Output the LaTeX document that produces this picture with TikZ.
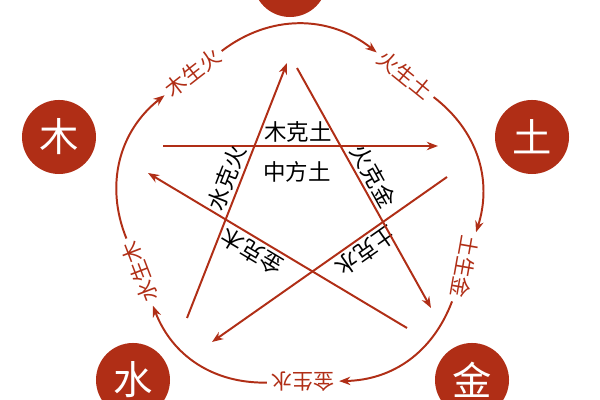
\documentclass[tikz,border=0pt]{standalone}
\usepackage{fontspec}
\setmainfont{Noto Sans CJK SC}
\usetikzlibrary{arrows.meta}
\definecolor{wxred}{RGB}{176,46,22}
\begin{document}
\begin{tikzpicture}[x=0.025cm, y=0.025cm]
        \tikzstyle{element} = [circle, fill=wxred, text=white, minimum size=1.85cm, inner sep=0pt, font=\fontsize{28}{28}\selectfont]
        \tikzstyle{sheng} = [text=wxred, inner sep=3pt, font=\fontsize{15}{15}\selectfont]
        \tikzstyle{link} = [draw=wxred, line width=1.4pt, -{Stealth[length=8pt, width=6pt]}]
        \tikzstyle{ke} = [sloped, allow upside down, above, inner sep=2pt, font=\fontsize{16}{16}\selectfont]
        \useasboundingbox (0,0) rectangle (600,400);
        \clip (0,0) rectangle (600,400);

        \node[element](huo) at (290,420){火};
        \node[element](mu) at (59,263){木};
        \node[element](tu) at (532,263){土};
        \node[element](shui) at (133,20){水};
        \node[element](jin) at (472,20){金};

        \node[sheng, rotate=38](muhuo) at (193,327){木生火};
        \node[sheng, rotate=-39](huotu) at (405,325){火生土};
        \node[sheng, rotate=-100](tujin) at (465,133){土生金};
        \node[sheng, rotate=180](jinshui) at (303,18){金生水};
        \node[sheng, rotate=111](shuimu) at (140,128){水生木};

        \path[link] (muhuo) to[bend left=38] (huotu);
        \path[link] (huotu) to[bend left=35] (tujin);
        \path[link] (tujin) to[bend left=34] (jinshui);
        \path[link] (jinshui) to[bend left=35] (shuimu);
        \path[link] (shuimu) to[bend left=37] (muhuo);

        \coordinate (mu1) at (163,254); \coordinate (mu2) at (438,254);
        \coordinate (tu1) at (447,223); \coordinate (tu2) at (212,58);
        \coordinate (shui1) at (187,82); \coordinate (shui2) at (287,337);
        \coordinate (huo1) at (297,332); \coordinate (huo2) at (431,92);
        \coordinate (jin1) at (407,72); \coordinate (jin2) at (148,227);

        \draw[link] (mu1) -- node[ke, pos=0.49](mutu){木克土} (mu2);
        \draw[link] (tu1) -- node[ke, pos=0.38](tushui){土克水} (tu2);
        \draw[link] (shui1) -- node[ke, pos=0.53](shuihuo){水克火} (shui2);
        \draw[link] (huo1) -- node[ke, pos=0.48](huojin){火克金} (huo2);
        \draw[link] (jin1) -- node[ke, pos=0.57](jinmu){金克木} (jin2);

        \node[font=\fontsize{16}{16}\selectfont](zhong) at (297,228){中方土};
    \end{tikzpicture}
\end{document}
